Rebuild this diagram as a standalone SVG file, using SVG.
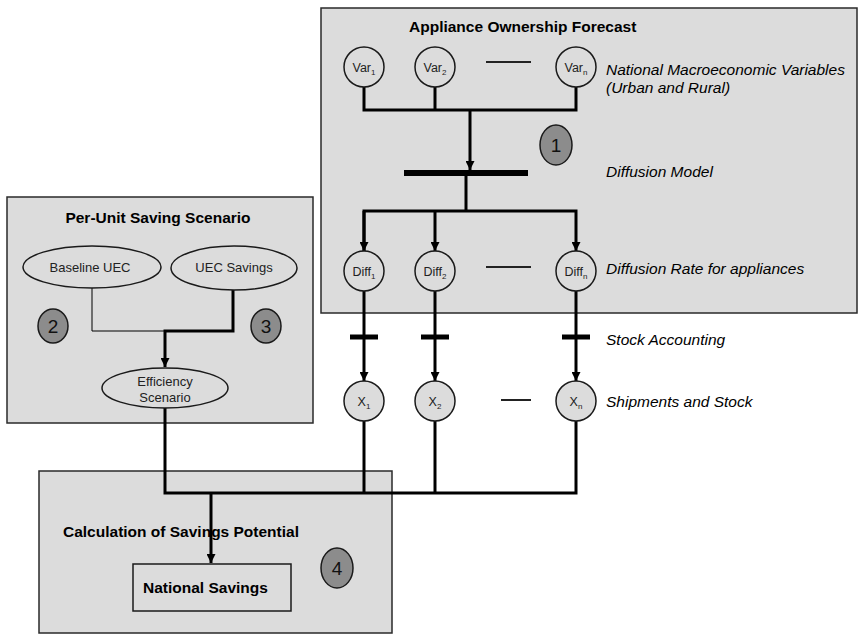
<svg xmlns="http://www.w3.org/2000/svg" width="859" height="635" viewBox="0 0 859 635">
<defs>
<style>
.box{fill:#dcdcdc;stroke:#2a2a2a;stroke-width:1.5}
.title{font-family:"Liberation Sans",Arial,sans-serif;font-weight:bold;font-size:15.5px;fill:#000}
.lab{font-family:"Liberation Sans",Arial,sans-serif;font-style:italic;font-size:15.5px;fill:#000}
.node{fill:#dcdcdc;stroke:#1a1a1a;stroke-width:1.5}
.ntxt{font-family:"Liberation Sans",Arial,sans-serif;font-size:12.5px;fill:#222;text-anchor:middle}
.etxt{font-family:"Liberation Sans",Arial,sans-serif;font-size:13px;fill:#222;text-anchor:middle}
.badge{fill:#8c8c8c;stroke:#1a1a1a;stroke-width:1.5}
.btxt{font-family:"Liberation Sans",Arial,sans-serif;font-size:19px;fill:#111;text-anchor:middle}
.thick{fill:none;stroke:#000;stroke-width:3}
.thin{fill:none;stroke:#000;stroke-width:1}
.bar{stroke:#000;fill:none}
.dash{stroke:#222;stroke-width:2}
</style>
<marker id="arr" viewBox="0 0 10 10" refX="10" refY="5" markerWidth="3" markerHeight="3" orient="auto" markerUnits="strokeWidth">
<path d="M0,0 L10,5 L0,10 Z" fill="#000"/>
</marker>
</defs>
<rect width="859" height="635" fill="#fff"/>

<g id="box-ownership">
<rect class="box" x="321" y="8" width="536" height="305"/>
<text class="title" x="409" y="32">Appliance Ownership Forecast</text>
<text class="lab" x="606" y="75">National Macroeconomic Variables</text>
<text class="lab" x="606" y="93">(Urban and Rural)</text>
<text class="lab" x="606" y="177">Diffusion Model</text>
<text class="lab" x="606" y="274">Diffusion Rate for appliances</text>
</g>
<g id="box-perunit">
<rect class="box" x="7" y="197" width="306" height="226"/>
<text class="title" x="158" y="223" text-anchor="middle">Per-Unit Saving Scenario</text>
</g>
<g id="box-calc">
<rect class="box" x="39" y="471" width="353" height="162"/>
<text class="title" x="63" y="537">Calculation of Savings Potential</text>
</g>
<g id="labels-outside">
<text class="lab" x="606" y="345">Stock Accounting</text>
<text class="lab" x="606" y="407">Shipments and Stock</text>
</g>

<g id="connectors">
<!-- Var to diffusion model -->
<polyline class="thick" points="364,87 364,110 576,110 576,87"/>
<line class="thick" x1="435" y1="87" x2="435" y2="110"/>
<line class="thick" x1="470" y1="110" x2="470" y2="170" marker-end="url(#arr)"/>
<line class="bar" x1="404" y1="173" x2="528" y2="173" stroke-width="6"/>
<polyline class="thick" points="466,173 466,211"/>
<polyline class="thick" points="364,251 364,211 576,211 576,251" marker-end="url(#arr)"/>
<line class="thick" x1="364" y1="211" x2="364" y2="251" marker-end="url(#arr)"/>
<line class="thick" x1="435" y1="211" x2="435" y2="251" marker-end="url(#arr)"/>
<!-- Diff to X -->
<line class="thick" x1="364" y1="291" x2="364" y2="381" marker-end="url(#arr)"/>
<line class="thick" x1="435" y1="291" x2="435" y2="381" marker-end="url(#arr)"/>
<line class="thick" x1="576" y1="291" x2="576" y2="381" marker-end="url(#arr)"/>
<line class="bar" x1="350" y1="337" x2="378" y2="337" stroke-width="5"/>
<line class="bar" x1="421" y1="337" x2="449" y2="337" stroke-width="5"/>
<line class="bar" x1="562" y1="337" x2="590" y2="337" stroke-width="5"/>
<!-- dashes -->
<line class="dash" x1="486" y1="62" x2="531" y2="62"/>
<line class="dash" x1="486" y1="267" x2="531" y2="267"/>
<line class="dash" x1="501" y1="400" x2="531" y2="400"/>
<!-- per-unit -->
<polyline class="thin" points="92,288 92,331 165,331"/>
<polyline class="thick" points="233,290 233,331 165,331 165,367" marker-end="url(#arr)"/>
<!-- to savings -->
<polyline class="thick" points="165,408 165,493 576,493 576,421"/>
<line class="thick" x1="364" y1="421" x2="364" y2="493"/>
<line class="thick" x1="435" y1="421" x2="435" y2="493"/>
<line class="thick" x1="211" y1="493" x2="211" y2="563" marker-end="url(#arr)"/>
</g>

<g id="var1"><circle class="node" cx="364" cy="67" r="20"/><text class="ntxt" x="364" y="72">Var<tspan font-size="8" dy="3">1</tspan></text></g>
<g id="var2"><circle class="node" cx="435" cy="67" r="20"/><text class="ntxt" x="435" y="72">Var<tspan font-size="8" dy="3">2</tspan></text></g>
<g id="varn"><circle class="node" cx="576" cy="67" r="20"/><text class="ntxt" x="576" y="72">Var<tspan font-size="8" dy="3">n</tspan></text></g>

<g id="badge1"><ellipse class="badge" cx="556" cy="145" rx="16" ry="20"/><text class="btxt" x="556" y="152">1</text></g>

<g id="diff1"><circle class="node" cx="364" cy="271" r="20"/><text class="ntxt" x="364" y="276">Diff<tspan font-size="8" dy="3">1</tspan></text></g>
<g id="diff2"><circle class="node" cx="435" cy="271" r="20"/><text class="ntxt" x="435" y="276">Diff<tspan font-size="8" dy="3">2</tspan></text></g>
<g id="diffn"><circle class="node" cx="576" cy="271" r="20"/><text class="ntxt" x="576" y="276">Diff<tspan font-size="8" dy="3">n</tspan></text></g>

<g id="x1"><circle class="node" cx="364" cy="401" r="20"/><text class="ntxt" x="364" y="406">X<tspan font-size="8" dy="3">1</tspan></text></g>
<g id="x2"><circle class="node" cx="435" cy="401" r="20"/><text class="ntxt" x="435" y="406">X<tspan font-size="8" dy="3">2</tspan></text></g>
<g id="xn"><circle class="node" cx="576" cy="401" r="20"/><text class="ntxt" x="576" y="406">X<tspan font-size="8" dy="3">n</tspan></text></g>

<g id="baseline-uec"><ellipse class="node" cx="92" cy="267" rx="69" ry="21"/><text class="etxt" x="90" y="272">Baseline UEC</text></g>
<g id="uec-savings"><ellipse class="node" cx="234" cy="268" rx="63" ry="22"/><text class="etxt" x="234" y="272">UEC Savings</text></g>
<g id="efficiency"><ellipse class="node" cx="165" cy="388" rx="63" ry="20"/><text class="etxt" x="165" y="386">Efficiency</text><text class="etxt" x="165" y="402">Scenario</text></g>

<g id="badge2"><ellipse class="badge" cx="53" cy="326" rx="15" ry="17"/><text class="btxt" x="53" y="333">2</text></g>
<g id="badge3"><ellipse class="badge" cx="266" cy="326" rx="15" ry="17"/><text class="btxt" x="266" y="333">3</text></g>

<g id="national-savings"><rect class="node" x="133" y="564" width="158" height="47"/><text class="title" x="143" y="593">National Savings</text></g>
<g id="badge4"><ellipse class="badge" cx="337" cy="568" rx="16" ry="20"/><text class="btxt" x="337" y="575">4</text></g>
</svg>
